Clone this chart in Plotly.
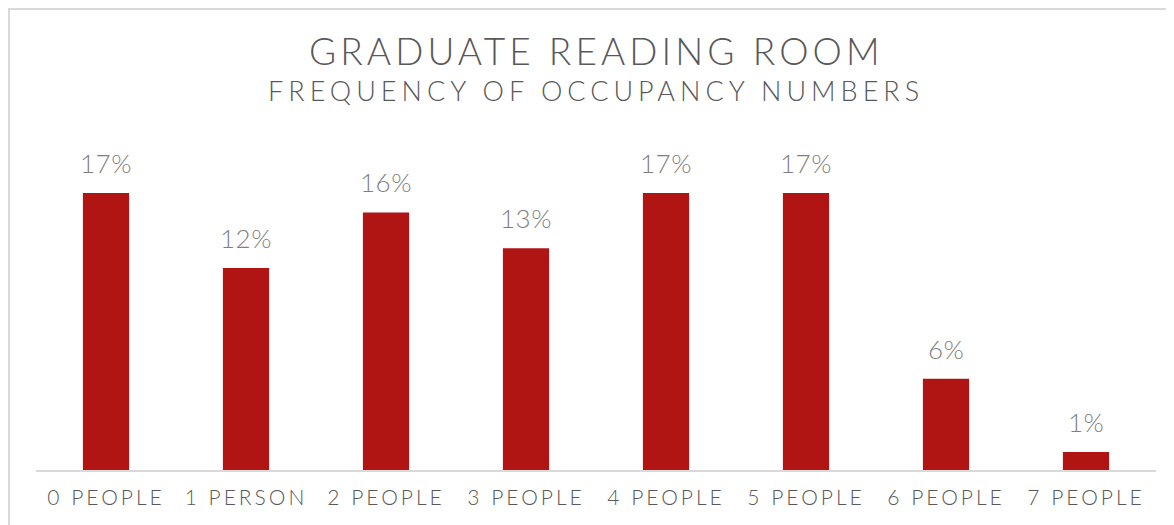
import plotly.graph_objects as go

categories = ["0 PEOPLE", "1 PERSON", "2 PEOPLE", "3 PEOPLE", "4 PEOPLE", "5 PEOPLE", "6 PEOPLE", "7 PEOPLE"]
shares = [0.170, 0.124, 0.158, 0.136, 0.170, 0.170, 0.056, 0.011]
value_labels = ["17%", "12%", "16%", "13%", "17%", "17%", "6%", "1%"]

OFF = 8  # page body margin
W, H = 1174 - OFF, 525 - OFF
L, R, T, B = 36 - OFF, 18, 144 - OFF, 55
pw, ph = W - L - R, H - T - B

def px_x(p):
    return (p - OFF - L) / pw

def px_y(p):
    return (H - B - (p - OFF)) / ph

FONT = "Lato, 'Open Sans', sans-serif"

def spaced(s, ls):
    return f'<span style="letter-spacing:{ls}px">{s}</span>'

fig = go.Figure()
fig.add_trace(go.Bar(
    x=categories,
    y=shares,
    width=0.33,
    marker=dict(color="#B01514", line=dict(width=0)),
    hoverinfo="skip",
))

annotations = [
    dict(x=c, y=v, xref="x", yref="y", text=spaced(t, 0.5), showarrow=False,
         xanchor="center", yanchor="bottom", yshift=12,
         font=dict(family=FONT, size=26, color="#7F7F7F", weight=300))
    for c, v, t in zip(categories, shares, value_labels)
]
annotations += [
    dict(text=spaced("GRADUATE READING ROOM", 4.1), xref="paper", yref="paper",
         x=0.5, y=px_y(50), xanchor="center", yanchor="middle", showarrow=False,
         font=dict(family=FONT, size=37, color="#595959", weight=300)),
    dict(text=spaced("FREQUENCY OF OCCUPANCY NUMBERS", 5.0), xref="paper", yref="paper",
         x=0.5, y=px_y(90), xanchor="center", yanchor="middle", showarrow=False,
         font=dict(family=FONT, size=27, color="#595959", weight=300)),
]

fig.update_layout(
    width=W, height=H,
    margin=dict(l=L, r=R, t=T, b=B),
    paper_bgcolor="white", plot_bgcolor="white",
    showlegend=False,
    xaxis=dict(
        tickmode="array",
        tickvals=categories,
        ticktext=[spaced(c, 3.0) for c in categories],
        tickfont=dict(family=FONT, size=21, color="#595959", weight=300),
        showline=True, linecolor="#D9D9D9", linewidth=2,
        ticks="", showgrid=False, zeroline=False,
        ticklabelstandoff=8,
    ),
    yaxis=dict(range=[0, 0.2], visible=False, showgrid=False, zeroline=False),
    annotations=annotations,
    shapes=[
        dict(type="rect", xref="paper", yref="paper",
             x0=px_x(OFF + 1), x1=px_x(1190), y0=px_y(OFF + 1), y1=px_y(545),
             line=dict(color="#D9D9D9", width=2), fillcolor="rgba(0,0,0,0)", layer="below"),
    ],
)

fig.write_html("out.html")
